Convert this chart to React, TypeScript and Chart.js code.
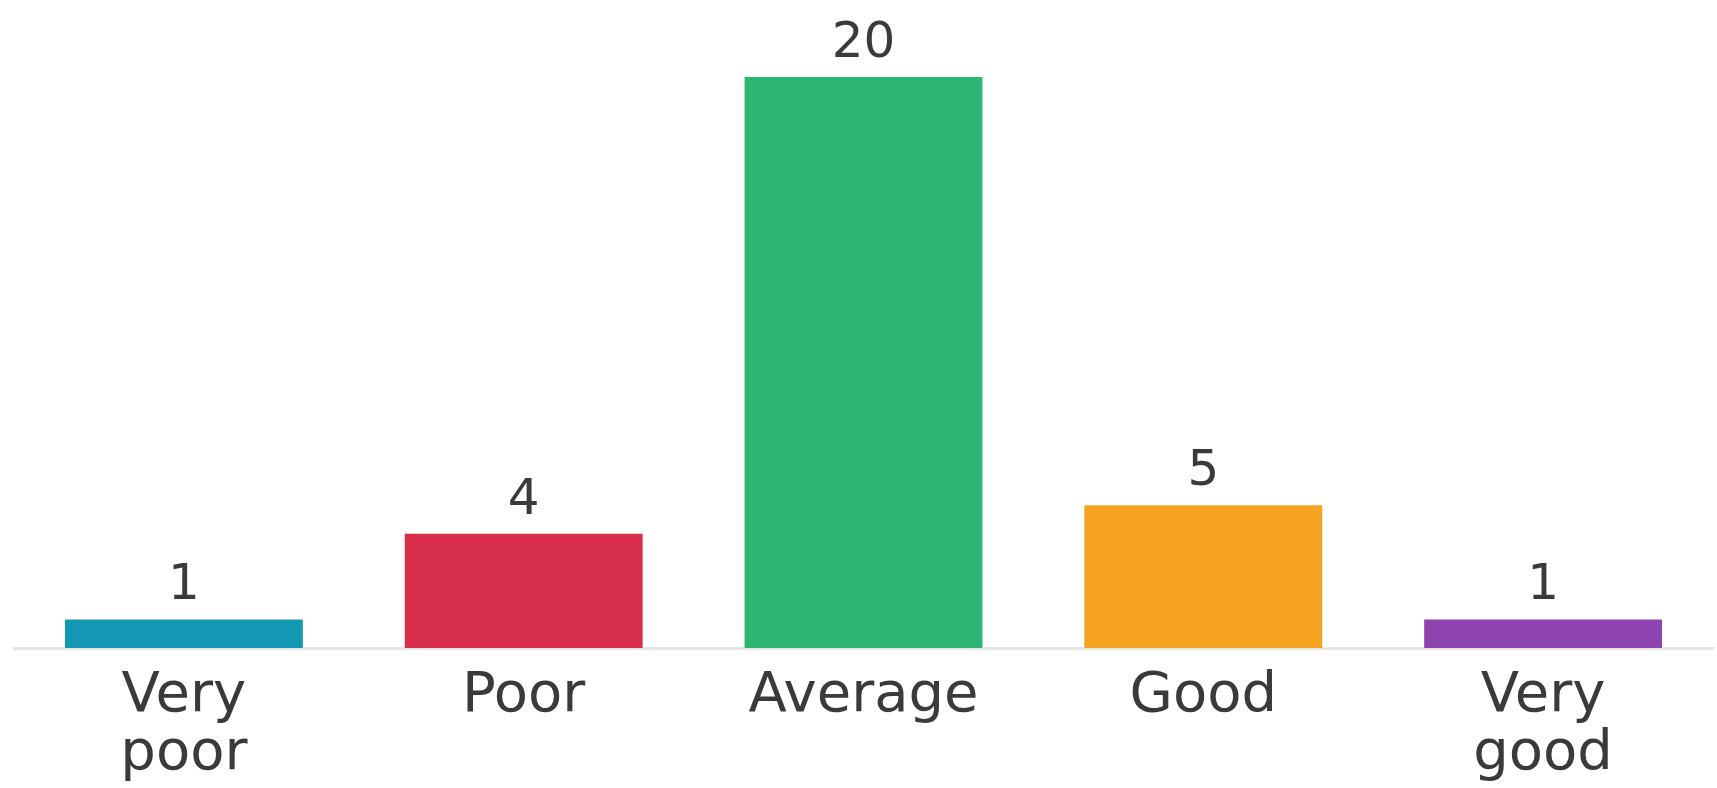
import React, { useEffect, useRef } from "react";
import { Chart, registerables } from "chart.js";

Chart.register(...registerables);

const categories: (string | string[])[] = [["Very", "poor"], "Poor", "Average", "Good", ["Very", "good"]];
const values: number[] = [1, 4, 20, 5, 1];
const barColors: string[] = ["#1497b2", "#d72f4b", "#2cb672", "#f5a31f", "#8e44af"];

const FONT = "'DejaVu Sans', sans-serif";

const valueLabels = {
  id: "valueLabels",
  afterDatasetsDraw(chart: any) {
    const ctx = chart.ctx;
    const meta = chart.getDatasetMeta(0);
    ctx.save();
    ctx.font = `50px ${FONT}`;
    ctx.fillStyle = "#3a3a3a";
    ctx.textAlign = "center";
    ctx.textBaseline = "alphabetic";
    meta.data.forEach((el: any, i: number) => {
      ctx.fillText(String(chart.data.datasets[0].data[i]), el.x, el.y - 20);
    });
    ctx.restore();
  },
};

export default function App() {
  const ref = useRef<HTMLCanvasElement | null>(null);
  useEffect(() => {
    if (!ref.current) return;
    const chart = new Chart(ref.current, {
      type: "bar",
      data: {
        labels: categories,
        datasets: [
          {
            data: values,
            backgroundColor: barColors,
            borderWidth: 0,
            barPercentage: 0.7,
            categoryPercentage: 1,
          },
        ],
      },
      options: {
        animation: false,
        responsive: false,
        maintainAspectRatio: false,
        layout: { padding: { top: 20, left: 14, right: 4, bottom: 0 } },
        plugins: { legend: { display: false }, tooltip: { enabled: false } },
        scales: {
          x: {
            grid: { display: false, drawTicks: false },
            border: { display: true, color: "#e6e6e6", width: 3 },
            ticks: {
              color: "#3a3a3a",
              font: { family: FONT, size: 56, lineHeight: 1.03 },
              padding: 20,
              maxRotation: 0,
              autoSkip: false,
            },
            afterFit: (scale: any) => {
              scale.height = 140;
            },
          },
          y: { display: false, min: 0, max: 22 },
        },
      },
      plugins: [valueLabels],
    });
    return () => chart.destroy();
  }, []);
  return (
    <div style={{ position: "fixed", left: 0, top: 0, width: 1717, height: 788, background: "#fff" }}>
      <canvas ref={ref} width={1717} height={788} style={{ width: 1717, height: 788 }} />
    </div>
  );
}
